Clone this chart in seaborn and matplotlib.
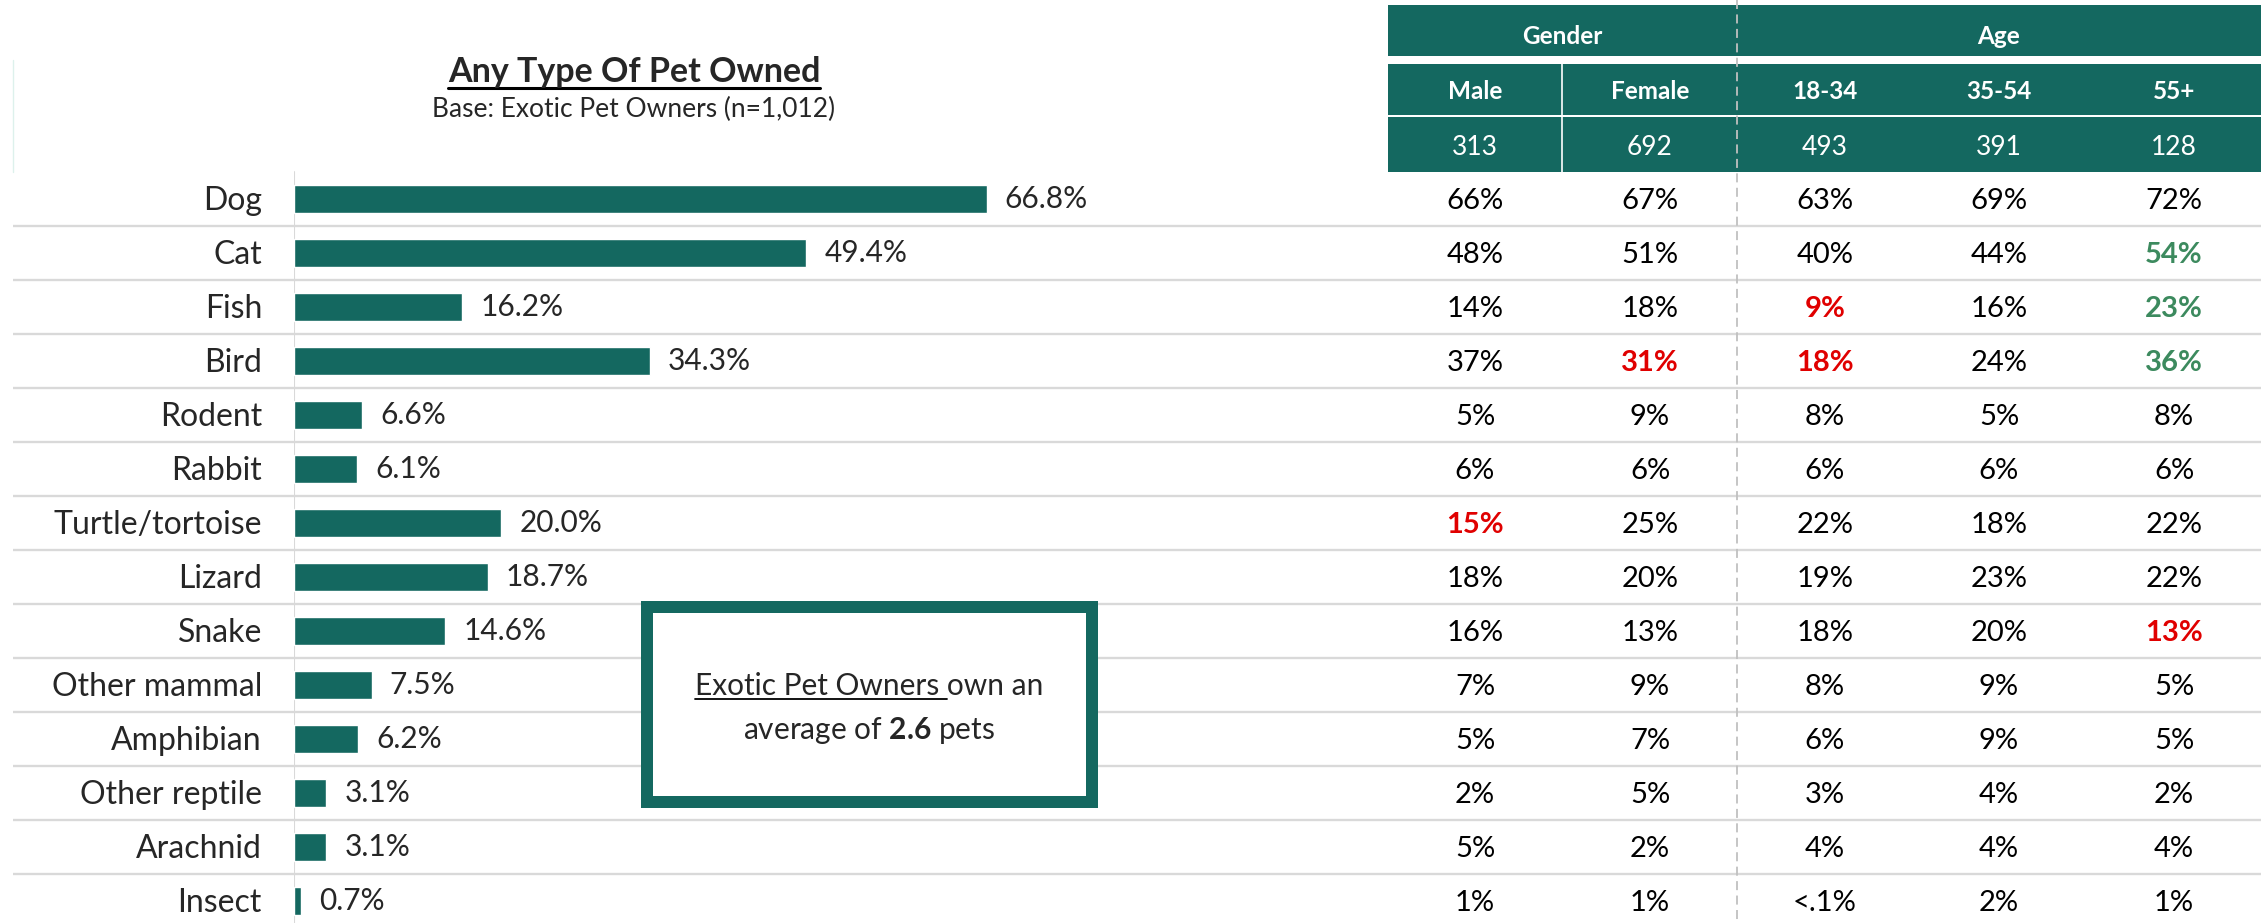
import matplotlib
matplotlib.use("Agg")
import matplotlib.pyplot as plt
import matplotlib.patches as mpatches
import seaborn as sns

# ---- data -------------------------------------------------------------
pets = ["Dog", "Cat", "Fish", "Bird", "Rodent", "Rabbit", "Turtle/tortoise",
        "Lizard", "Snake", "Other mammal", "Amphibian", "Other reptile",
        "Arachnid", "Insect"]
owned_pct = [66.8, 49.4, 16.2, 34.3, 6.6, 6.1, 20.0, 18.7, 14.6, 7.5, 6.2, 3.1, 3.1, 0.7]

groups = ["Gender", "Age"]
columns = ["Male", "Female", "18-34", "35-54", "55+"]
bases = ["313", "692", "493", "391", "128"]

male = ["66%", "48%", "14%", "37%", "5%", "6%", "15%", "18%", "16%", "7%", "5%", "2%", "5%", "1%"]
female = ["67%", "51%", "18%", "31%", "9%", "6%", "25%", "20%", "13%", "9%", "7%", "5%", "2%", "1%"]
age_18_34 = ["63%", "40%", "9%", "18%", "8%", "6%", "22%", "19%", "18%", "8%", "6%", "3%", "4%", "<.1%"]
age_35_54 = ["69%", "44%", "16%", "24%", "5%", "6%", "18%", "23%", "20%", "9%", "9%", "4%", "4%", "2%"]
age_55_plus = ["72%", "54%", "23%", "36%", "8%", "6%", "22%", "22%", "13%", "5%", "5%", "2%", "4%", "1%"]

# significantly higher (green) / lower (red) cells
sig_higher = [("Cat", "55+"), ("Fish", "55+"), ("Bird", "55+")]
sig_lower = [("Fish", "18-34"), ("Bird", "Female"), ("Bird", "18-34"),
             ("Turtle/tortoise", "Male"), ("Snake", "55+")]

avg_pets = 2.6

# ---- style ------------------------------------------------------------
TEAL = "#146860"
GREEN = "#3C8A5E"
RED = "#E00000"
GRID = "#D9D9D9"

sns.set_theme(style="white")
plt.rcParams["font.family"] = ["Lato", "DejaVu Sans"]
plt.rcParams["mathtext.fontset"] = "custom"
plt.rcParams["mathtext.rm"] = "Lato"
plt.rcParams["mathtext.bf"] = "Lato:bold"

W, H = 2261, 923
ROW0, ROW_H = 199, 54          # pixel centre of first row, row pitch
PX_PER_PCT = 10.37
BAR_LEFT, TABLE_LEFT = 294, 1388
col_x = [1475, 1650, 1825, 1999, 2174]


def py2r(py):
    return (py - ROW0) / ROW_H


def base_off(fs):
    # shift a baseline so that cap height is centred on the row
    return 0.7165 * fs * 100 / 72 / 2 / ROW_H


fig = plt.figure(figsize=(W / 100, H / 100), dpi=100)

ax_bg = fig.add_axes([0, 0, 1, 1])
ax_bg.set_xlim(0, W)
ax_bg.set_ylim(py2r(H), py2r(0))
ax_bg.set_axis_off()

# row separators
for r in range(len(pets) - 1):
    ax_bg.plot([13, W], [r + 0.5, r + 0.5], color=GRID, lw=1.7, zorder=1,
               solid_capstyle="butt")
ax_bg.plot([13, 13], [py2r(60), py2r(172)], color="#DDF1EC", lw=1)

# header table
for top, bot in [(5, 56), (64, 115), (117, 172)]:
    ax_bg.add_patch(mpatches.Rectangle((TABLE_LEFT, py2r(top)), W - TABLE_LEFT,
                                       py2r(bot) - py2r(top), facecolor=TEAL,
                                       edgecolor="none", zorder=2))
ax_bg.plot([1562, 1562], [py2r(64), py2r(172)], color="white", lw=1.2, zorder=3)
ax_bg.plot([1737, 1737], [py2r(0), py2r(H)], color="#C0C0C0", lw=1.3,
           linestyle=(0, (5, 3)), zorder=4)

fs_head, fs_base = 17.5, 19
ax_bg.text((TABLE_LEFT + 1737) / 2, py2r(35) + base_off(fs_head), groups[0], color="white",
           fontsize=fs_head, fontweight="bold", ha="center", va="baseline", zorder=5)
ax_bg.text((1737 + W) / 2, py2r(35) + base_off(fs_head), groups[1], color="white",
           fontsize=fs_head, fontweight="bold", ha="center", va="baseline", zorder=5)
for x, lab, n in zip(col_x, columns, bases):
    ax_bg.text(x, py2r(90) + base_off(fs_head), lab, color="white", fontsize=fs_head,
               fontweight="bold", ha="center", va="baseline", zorder=5)
    ax_bg.text(x, py2r(146) + base_off(fs_base), n, color="white", fontsize=fs_base,
               ha="center", va="baseline", zorder=5)

# table body
table = dict(zip(columns, [male, female, age_18_34, age_35_54, age_55_plus]))
fs_tab = 21
for x, col in zip(col_x, columns):
    for i, (pet, val) in enumerate(zip(pets, table[col])):
        color, weight = "black", "normal"
        if (pet, col) in sig_higher:
            color, weight = GREEN, "bold"
        elif (pet, col) in sig_lower:
            color, weight = RED, "bold"
        ax_bg.text(x, i + base_off(fs_tab), val, color=color, fontweight=weight,
                   fontsize=fs_tab, ha="center", va="baseline", zorder=5)

# title
title = ax_bg.text(634, py2r(82), "Any Type Of Pet Owned", fontsize=24.5,
                   fontweight="bold", ha="center", va="baseline")
ax_bg.text(634, py2r(117), "Base: Exotic Pet Owners (n=1,012)", fontsize=19,
           ha="center", va="baseline")

# callout box
fs_box = 21.5
ax_bg.add_patch(mpatches.Rectangle((647, py2r(607)), 1092 - 647, py2r(802) - py2r(607),
                                   facecolor="white", edgecolor=TEAL,
                                   lw=12 * 72 / 100, zorder=6))
box1 = ax_bg.text(869, py2r(695), "Exotic Pet Owners own an", fontsize=fs_box,
                  ha="center", va="baseline", zorder=7)
ax_bg.text(869, py2r(739), "average of $\\mathbf{%.1f}$ pets" % avg_pets, fontsize=fs_box,
           ha="center", va="baseline", zorder=7)
under = ax_bg.text(0, 0, "Exotic Pet Owners", fontsize=fs_box, alpha=0)

# ---- bars -------------------------------------------------------------
ax_bar = fig.add_axes([BAR_LEFT / W, 0, (TABLE_LEFT - BAR_LEFT) / W, 1])
sns.barplot(x=owned_pct, y=pets, ax=ax_bar, color=TEAL, saturation=1,
            width=28 / ROW_H, orient="h")
ax_bar.set_ylim(py2r(H), py2r(0))
ax_bar.set_xlim(0, (TABLE_LEFT - BAR_LEFT) / PX_PER_PCT)
ax_bar.set_axis_off()
ax_bar.patch.set_visible(False)
ax_bar.plot([0, 0], [py2r(172), py2r(H)], color=GRID, lw=1.5, zorder=0)

fs_lab = 23
for i, pet in enumerate(pets):
    ax_bar.text(-32 / PX_PER_PCT, i + base_off(fs_lab), pet, fontsize=fs_lab,
                ha="right", va="baseline")
ax_bar.bar_label(ax_bar.containers[0], labels=[f"{v:.1f}%" for v in owned_pct],
                 padding=13, fontsize=21.5)

# underlines (need text extents)
fig.canvas.draw()
rend = fig.canvas.get_renderer()
bb = title.get_window_extent(rend)
ax_bg.plot([bb.x0, bb.x1], [py2r(88), py2r(88)], color="black", lw=2.2)
bb1 = box1.get_window_extent(rend)
wu = under.get_window_extent(rend).width + 0.25 * fs_box * 100 / 72
ax_bg.plot([bb1.x0, bb1.x0 + wu], [py2r(699), py2r(699)], color="black", lw=1.3, zorder=7)

fig.savefig("out.png", dpi=100, facecolor="white")
